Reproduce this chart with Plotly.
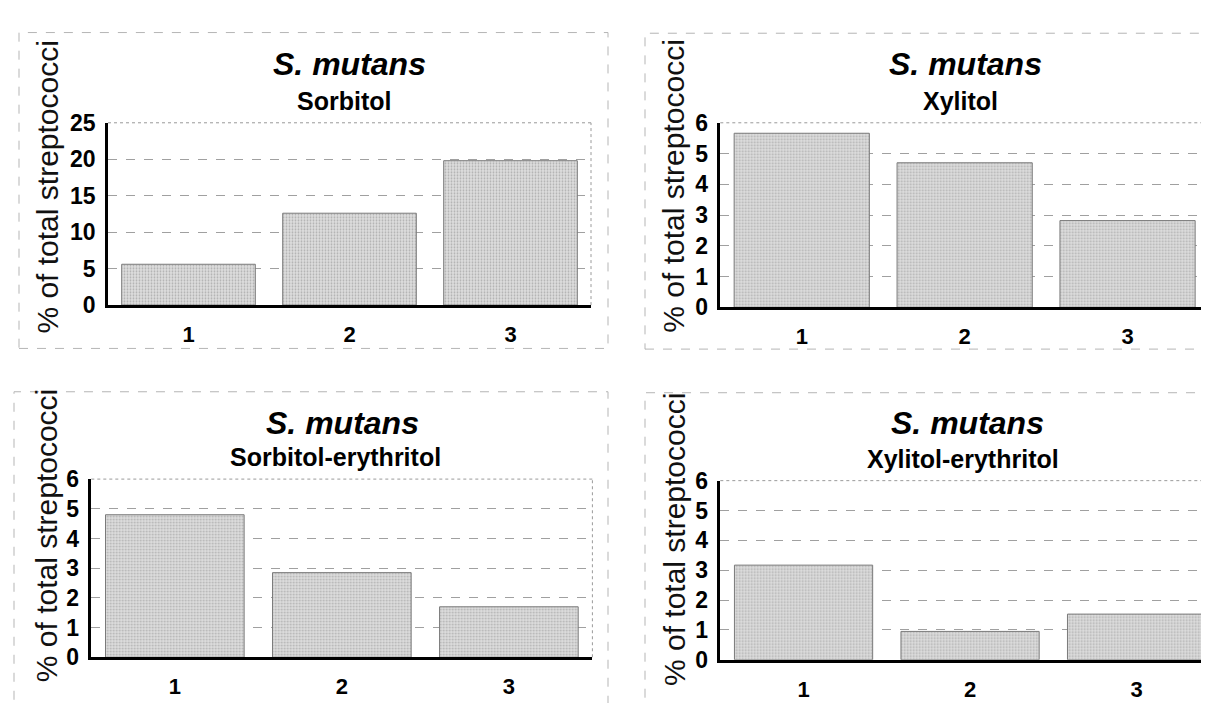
import plotly.graph_objects as go

W, H = 1209, 703

categories = ["1", "2", "3"]
species = "S. mutans"
subtitles = ["Sorbitol", "Xylitol", "Sorbitol-erythritol", "Xylitol-erythritol"]
sorbitol = [5.6, 12.6, 19.8]
xylitol = [5.66, 4.70, 2.82]
sorbitol_erythritol = [4.80, 2.85, 1.70]
xylitol_erythritol = [3.17, 0.95, 1.53]
y_max = [25, 6, 6, 6]
y_dtick = [5, 1, 1, 1]
y_title = "% of total streptococci"

series = [sorbitol, xylitol, sorbitol_erythritol, xylitol_erythritol]

# pixel geometry of each panel: plot area (left, right, top, bottom), x range end
panels = [
    dict(l=100, r=583, t=105.7, b=295.0, xend=2.5, tx=341, ty1=45, ty2=83, sx=336, yt=(40, 173),
         box=(11, 12, 600, 340)),
    dict(l=712.3, r=1201, t=105.7, b=297.3, xend=2.5, tx=957, ty1=45, ty2=83, sx=952, yt=(666, 172),
         box=(637, 12.7, 1215, 340.7)),
    dict(l=83.3, r=584.4, t=475.7, b=660.7, xend=2.5, tx=334, ty1=417, ty2=453, sx=327, yt=(38, 535),
         box=(6, 385, 600, 710)),
    dict(l=712.3, r=1209, t=477.3, b=663.3, xend=2.483, tx=959, ty1=417, ty2=455, sx=955, yt=(666, 539),
         box=(637, 386, 1215, 710)),
]

FONT = "Liberation Sans, Arial, sans-serif"

def px(x):
    return x / W

def py(y):
    return 1 - y / H

fig = go.Figure()
shapes = []
annotations = []
layout = {}

for i, (vals, p) in enumerate(zip(series, panels)):
    n = "" if i == 0 else str(i + 1)
    xa, ya = "x" + n, "y" + n
    fig.add_trace(go.Bar(
        x=categories, y=vals, xaxis=xa, yaxis=ya,
        marker=dict(color="#d8d8d8",
                    line=dict(color="#7a7a7a", width=1),
                    pattern=dict(shape=".", fgcolor="#808080", bgcolor="#dedede",
                                 size=3, solidity=0.3)),
        showlegend=False, hoverinfo="skip",
    ))
    layout["xaxis" + n] = dict(
        domain=[px(p["l"]), px(p["r"])], anchor=ya, type="category",
        range=[-0.5, p["xend"]], showline=True, linecolor="black", linewidth=2.5,
        showgrid=False, zeroline=False, ticks="outside", ticklen=8,
        tickcolor="rgba(0,0,0,0)",
        tickfont=dict(family=FONT, size=22, color="black", weight="bold"),
    )
    layout["yaxis" + n] = dict(
        domain=[py(p["b"]), py(p["t"])], anchor=xa,
        range=[0, y_max[i]], dtick=y_dtick[i], tick0=0,
        showline=True, linecolor="black", linewidth=2.5,
        showgrid=True, gridcolor="#a0a0a0", gridwidth=1, griddash="dash",
        zeroline=False, ticks="outside", ticklen=5, tickcolor="rgba(0,0,0,0)",
        tickfont=dict(family=FONT, size=23, color="black", weight="bold"),
    )
    # dotted right edge and top edge of the plot area
    shapes.append(dict(type="line", xref=xa + " domain", yref=ya + " domain",
                       x0=1, x1=1, y0=0, y1=1,
                       line=dict(color="#9a9a9a", width=1, dash="dot"), layer="below"))
    shapes.append(dict(type="line", xref=xa + " domain", yref=ya + " domain",
                       x0=0, x1=1, y0=1, y1=1,
                       line=dict(color="#9a9a9a", width=1, dash="dot"), layer="below"))
    # dashed panel frame
    bx0, by0, bx1, by1 = p["box"]
    shapes.append(dict(type="rect", xref="paper", yref="paper",
                       x0=px(bx0), x1=px(bx1), y0=py(by1), y1=py(by0),
                       line=dict(color="#b5b5b5", width=1, dash="dash")))
    annotations.append(dict(text="<i>" + species + "</i>", xref="paper", yref="paper",
                            x=px(p["tx"]), y=py(p["ty1"]), xanchor="center", yanchor="middle",
                            showarrow=False,
                            font=dict(family=FONT, size=32, color="black", weight="bold")))
    annotations.append(dict(text=subtitles[i], xref="paper", yref="paper",
                            x=px(p["sx"]), y=py(p["ty2"]), xanchor="center", yanchor="middle",
                            showarrow=False,
                            font=dict(family=FONT, size=25, color="black", weight="bold")))
    annotations.append(dict(text=y_title, xref="paper", yref="paper",
                            x=px(p["yt"][0]), y=py(p["yt"][1]), xanchor="center", yanchor="middle",
                            textangle=-90, showarrow=False,
                            font=dict(family=FONT, size=30, color="#111")))

fig.update_layout(
    width=W, height=H, margin=dict(l=0, r=0, t=0, b=0),
    paper_bgcolor="white", plot_bgcolor="white",
    bargap=0.17, shapes=shapes, annotations=annotations, **layout,
)

fig.write_html("out.html")
